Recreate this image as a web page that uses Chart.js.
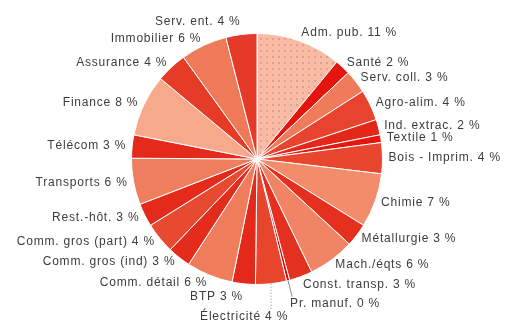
<!DOCTYPE html>
<html>
<head>
<meta charset="utf-8">
<script src="https://cdn.jsdelivr.net/npm/chart.js@4"></script>
<style>
  body { margin: 0; background: #fff; }
  #wrap { width: 508px; height: 324px; }
</style>
</head>
<body>
<div id="wrap"><canvas id="myChart" width="508" height="324"></canvas></div>
<script>
// secteurs, dans l'ordre horaire depuis midi
const sectors = ['Adm. pub.', 'Santé', 'Serv. coll.', 'Agro-alim.', 'Ind. extrac.', 'Textile',
    'Bois - Imprim.', 'Chimie', 'Métallurgie', 'Mach./éqts', 'Const. transp.', 'Pr. manuf.',
    'Électricité', 'BTP', 'Comm. détail', 'Comm. gros (ind)', 'Comm. gros (part)', 'Rest.-hôt.',
    'Transports', 'Télécom', 'Finance', 'Assurance', 'Immobilier', 'Serv. ent.'];

// parts (%)
const shares = [11, 2, 3, 4, 2, 1, 4, 7, 3, 6, 3, 0.4, 4, 3, 6, 3, 4, 3, 6, 3, 8, 4, 6, 4];

const sliceColors = ['#f8bca2', '#e4150d', '#ef7b5b', '#e8432e', '#e3281a', '#e3170d',
    '#e9462f', '#f28c6a', '#e5301f', '#f08464', '#e4301e', '#e0000a',
    '#e8452d', '#e32a1a', '#ef7d5c', '#e32c1c', '#e84a31', '#e42a1b',
    '#ef7e5e', '#e32a1b', '#f7a98c', '#e63b27', '#ee7a5a', '#e5392a'];

// petit motif pointillé pour Adm. pub.
function dotPattern(bg, dot) {
    const c = document.createElement('canvas');
    c.width = 6; c.height = 6;
    const g = c.getContext('2d');
    g.fillStyle = bg; g.fillRect(0, 0, 6, 6);
    g.fillStyle = dot; g.fillRect(2, 2, 2, 2);
    return g.createPattern(c, 'repeat');
}
const fills = sliceColors.slice();
fills[0] = dotPattern(sliceColors[0], '#e79aa6');

// étiquettes avec trait de rappel
const leaders = {
    'Pr. manuf.': { len: 16, dx: 4, align: 'left', tx: -2, ty: 7, dash: [] },
    'Électricité': { len: 26, dx: 0, align: 'center', tx: -27, ty: 7, dash: [1, 2] }
};

const labelPlugin = {
    id: 'sliceLabels',
    afterDatasetsDraw(chart) {
        const ctx = chart.ctx;
        const arcs = chart.getDatasetMeta(0).data;
        ctx.save();
        ctx.font = '12px "Liberation Sans", Arial, sans-serif';
        ctx.letterSpacing = '0.8px';
        ctx.fillStyle = '#3c3c3c';
        ctx.textBaseline = 'middle';
        arcs.forEach((arc, i) => {
            const p = arc.getProps(['x', 'y', 'startAngle', 'endAngle', 'outerRadius'], true);
            const a = (p.startAngle + p.endAngle) / 2;
            const cos = Math.cos(a), sin = Math.sin(a);
            const text = sectors[i] + ' ' + Math.round(shares[i]) + ' %';
            const ld = leaders[sectors[i]];
            if (ld) {
                const x0 = p.x + p.outerRadius * cos;
                const y0 = p.y + p.outerRadius * sin;
                const x1 = x0 + ld.dx, y1 = y0 + ld.len;
                ctx.strokeStyle = '#8a8a8a';
                ctx.lineWidth = 1;
                ctx.setLineDash(ld.dash);
                ctx.beginPath();
                ctx.moveTo(x0, y0);
                ctx.lineTo(x1, y1);
                ctx.stroke();
                ctx.setLineDash([]);
                ctx.textAlign = ld.align;
                ctx.fillText(text, x1 + ld.tx, y1 + ld.ty);
                return;
            }
            const r = p.outerRadius + 6;
            const x = p.x + r * cos;
            // écarte davantage les étiquettes proches de la verticale
            const y = p.y + r * sin + Math.sign(sin) * Math.pow(Math.abs(sin), 20) * 8;
            ctx.textAlign = cos >= 0 ? 'left' : 'right';
            ctx.fillText(text, x, y);
        });
        ctx.restore();
    }
};

const config = {
    type: 'pie',
    data: {
        labels: sectors,
        datasets: [{
            data: shares,
            backgroundColor: fills,
            borderColor: '#ffffff',
            borderWidth: 1
        }]
    },
    options: {
        responsive: false,
        animation: false,
        layout: {
            padding: { top: 33, bottom: 39, left: 131, right: 125 }
        },
        plugins: {
            legend: { display: false },
            tooltip: { enabled: false }
        }
    },
    plugins: [labelPlugin]
};

const ctx = document.getElementById('myChart').getContext('2d');
new Chart(ctx, config);
</script>
</body>
</html>
